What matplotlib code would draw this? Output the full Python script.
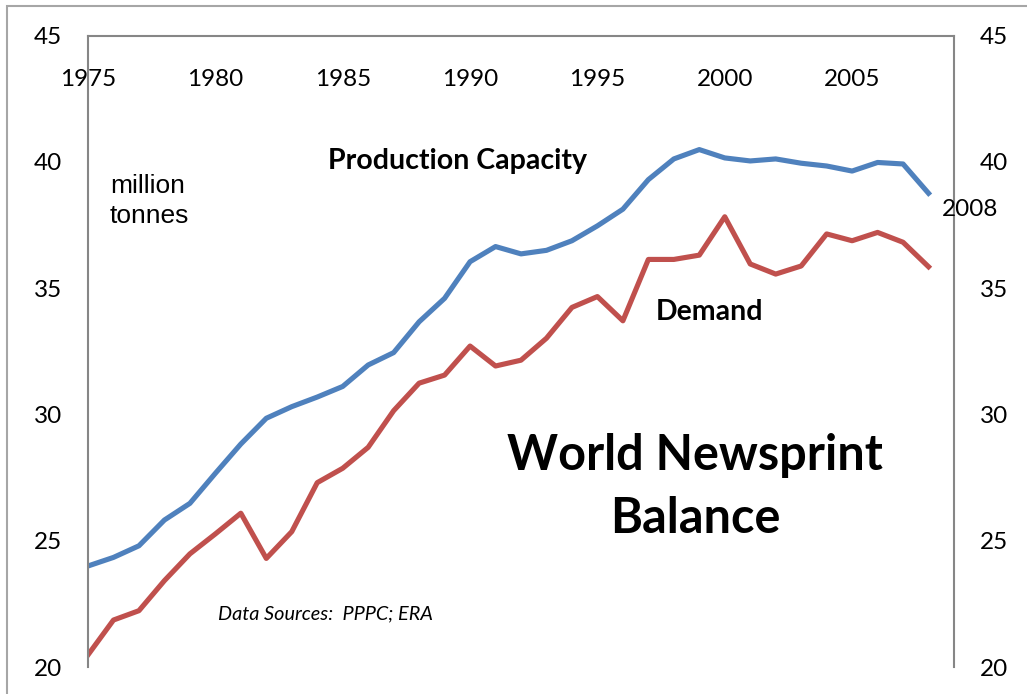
import matplotlib.pyplot as plt
from matplotlib.patches import Rectangle

plt.rcParams['font.family'] = ['Lato', 'DejaVu Sans']

# 年份与数据 (million tonnes)
years = list(range(1975, 2009))
capacity = [24.0, 24.34, 24.8, 25.82, 26.48, 27.67, 28.83, 29.85, 30.31, 30.69,
            31.11, 31.96, 32.45, 33.67, 34.6, 36.05, 36.65, 36.36, 36.5, 36.88,
            37.47, 38.13, 39.3, 40.12, 40.49, 40.16, 40.04, 40.12, 39.95, 39.84,
            39.64, 39.98, 39.92, 38.76]
demand = [20.48, 21.86, 22.23, 23.42, 24.48, 25.27, 26.09, 24.3, 25.36, 27.3,
          27.87, 28.7, 30.15, 31.24, 31.56, 32.71, 31.92, 32.15, 33.02, 34.24,
          34.67, 33.71, 36.14, 36.14, 36.31, 37.83, 35.96, 35.56, 35.88, 37.15,
          36.88, 37.21, 36.82, 35.85]
xticks = [1975, 1980, 1985, 1990, 1995, 2000, 2005]
yticks = [20, 25, 30, 35, 40, 45]

fig = plt.figure(figsize=(10.27, 6.94), dpi=100)
ax = fig.add_axes([88 / 1027, 1 - 667 / 694, (954 - 88) / 1027, (667 - 35.7) / 694])

# 外框
fig.patches.append(Rectangle((7 / 1027, -0.1), 1.2, 1 - 6 / 694 + 0.1, transform=fig.transFigure,
                             fill=False, edgecolor='#a6a6a6', linewidth=1.5))

ax.plot(years, capacity, color='#4F81BD', linewidth=3.7, solid_joinstyle='round')
ax.plot(years, demand, color='#C0504D', linewidth=3.7, solid_joinstyle='round')

ax.set_xlim(1975, 2009)
ax.set_ylim(20, 45)

ax.xaxis.tick_top()
ax.set_xticks(xticks)
ax.tick_params(axis='x', length=0, pad=-39, labelsize=17.5)
ax.set_yticks(yticks)
ax.tick_params(axis='y', length=0, pad=18.5, labelsize=17.5, labelright=True, right=False)

for s in ['top', 'left', 'right']:
    ax.spines[s].set_color('#868686')
    ax.spines[s].set_linewidth(1.5)
ax.spines['bottom'].set_visible(False)

# 文字标注
fig.text(110 / 1027, 1 - 201 / 694, 'million\ntonnes', family='Liberation Sans', fontsize=19,
         va='center', ha='left', linespacing=1.3)
fig.text(458 / 1027, 1 - 161 / 694, 'Production Capacity', fontsize=20.5, fontweight='bold',
         ha='center', va='center')
fig.text(709 / 1027, 1 - 312 / 694, 'Demand', fontsize=20.5, fontweight='bold',
         ha='center', va='center')
fig.text(695 / 1027, 1 - 487 / 694, 'World Newsprint\nBalance', fontsize=35, fontweight='bold',
         ha='center', va='center', linespacing=1.5)
fig.text(325 / 1027, 1 - 614 / 694, 'Data Sources:  PPPC; ERA', fontsize=14.3, style='italic',
         ha='center', va='center')
fig.text(970 / 1027, 1 - 209 / 694, '2008', fontsize=17.5, ha='center', va='center')

fig.savefig('out.png', dpi=100)
